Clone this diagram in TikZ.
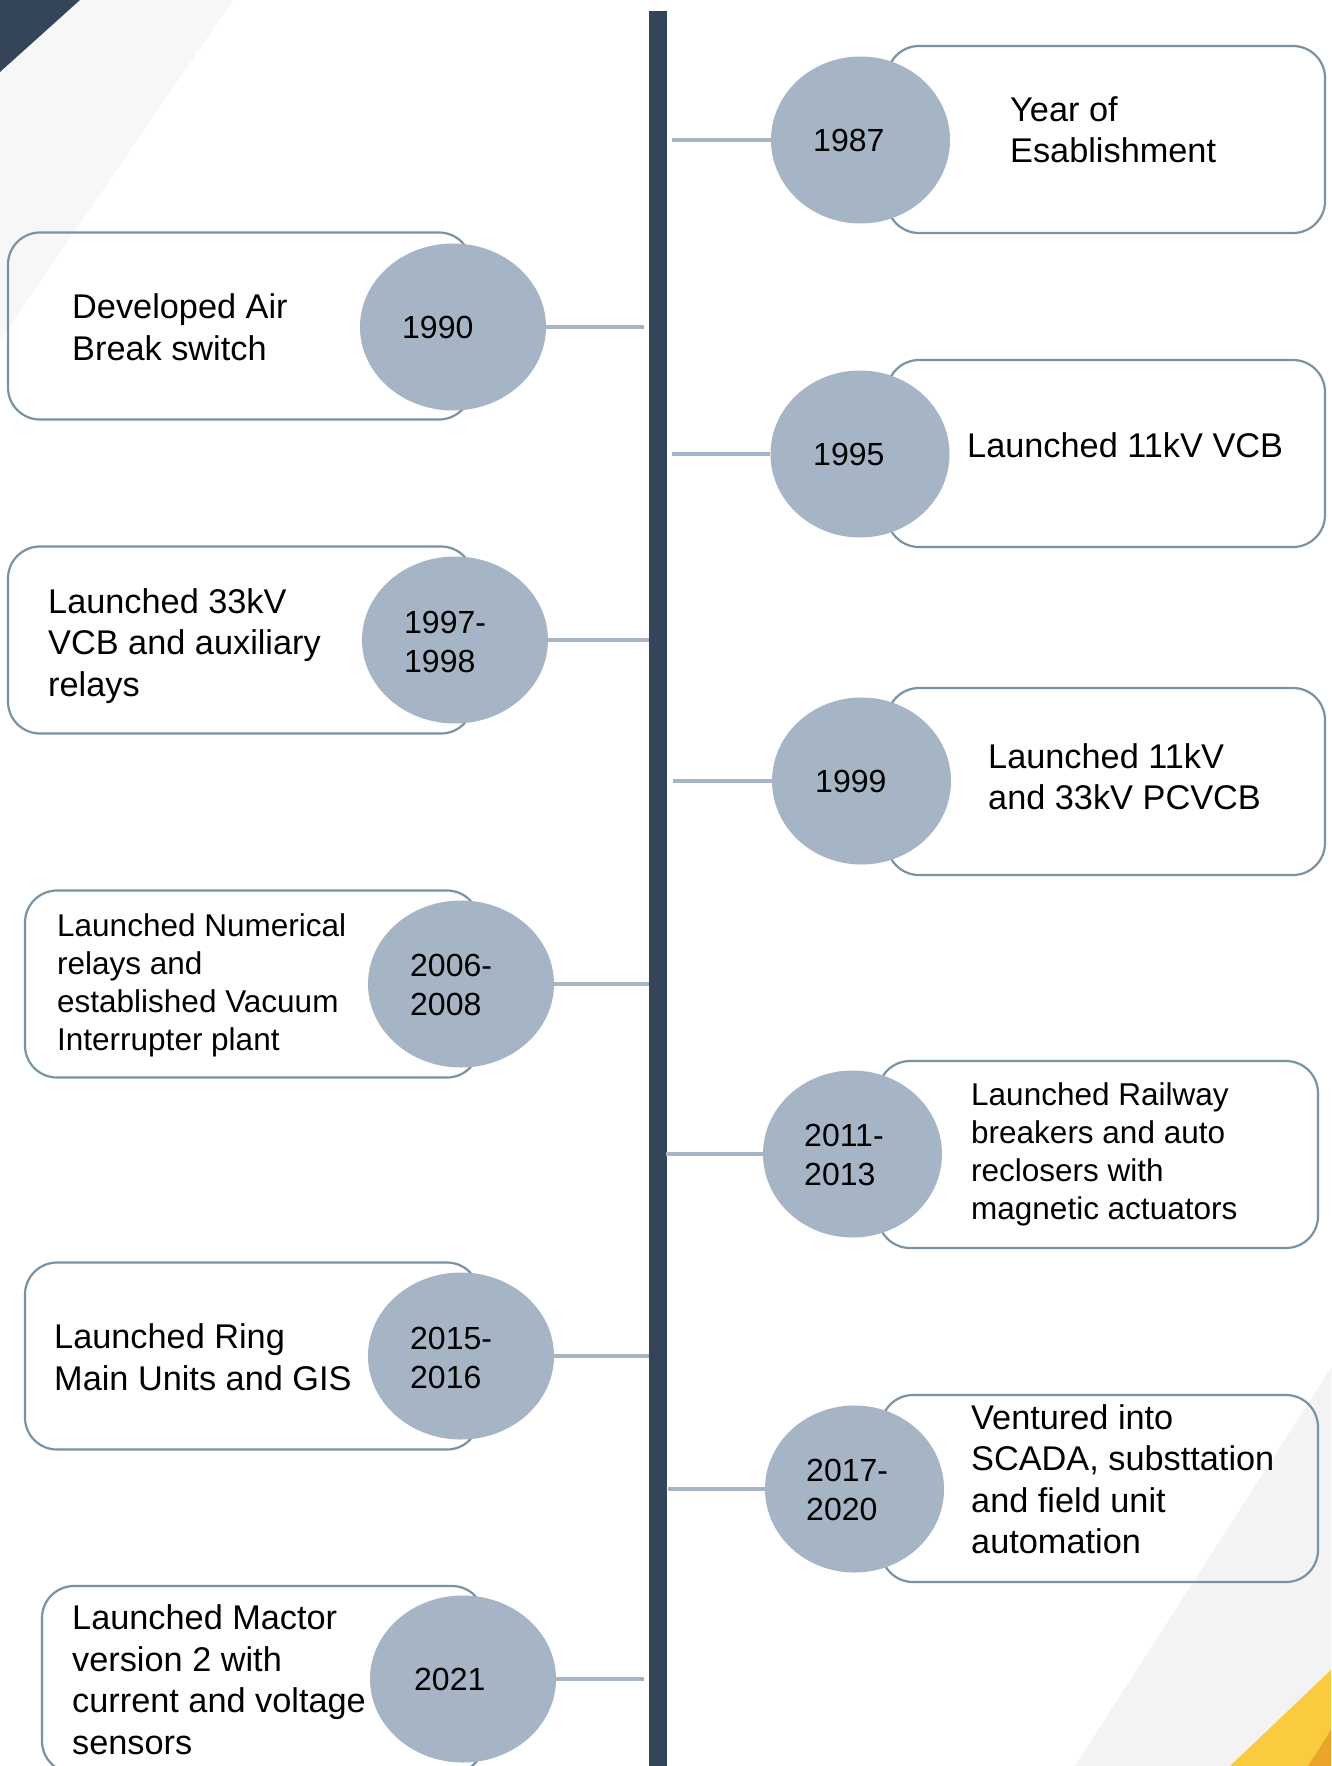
\documentclass[tikz,border=0pt]{standalone}
\usepackage{fontspec}
\setmainfont{Liberation Sans}
\usetikzlibrary{shapes.geometric}
\definecolor{darkslate}{RGB}{52,68,89}
\definecolor{bubble}{RGB}{165,181,197}
\definecolor{boxline}{RGB}{122,146,162}
\definecolor{bandgray}{RGB}{247,247,247}
\definecolor{bandgraytwo}{RGB}{243,243,243}
\definecolor{ochre}{RGB}{250,203,62}
\definecolor{ochredark}{RGB}{234,165,42}
\begin{document}
\begin{tikzpicture}[x=1pt,y=-1pt,
  evbox/.style={draw=boxline,line width=2.2pt,rounded corners=32pt,minimum height=187pt,inner sep=0pt},
  bub/.style={ellipse,fill=bubble,minimum height=167pt,inner sep=0pt},
  conn/.style={draw=bubble,line width=4.5pt},
  bigtxt/.style={anchor=west,align=left,inner sep=0pt,font=\fontsize{34.3}{41.5}\selectfont},
  smalltxt/.style={anchor=west,align=left,inner sep=0pt,font=\fontsize{31.5}{38}\selectfont},
  yeartxt/.style={anchor=west,align=left,inner sep=0pt,font=\fontsize{32}{39}\selectfont}
]
\useasboundingbox (0,0) rectangle (1331,1766);
\clip (0,0) rectangle (1331,1766);
\fill[white] (0,0) rectangle (1331,1766);
% background decoration
\fill[bandgray] (80,0) -- (233,0) -- (0,340) -- (0,72) -- cycle;
\fill[darkslate] (0,0) -- (80,0) -- (0,72) -- cycle;
\fill[bandgraytwo] (1331,1368) -- (1331,1766) -- (1075,1766) -- cycle;
\fill[ochre] (1331,1670) -- (1331,1766) -- (1230,1766) -- cycle;
\fill[ochredark] (1331,1730) -- (1331,1766) -- (1308,1766) -- cycle;
% central bar
\node[fill=darkslate,minimum width=18pt,minimum height=1755pt,inner sep=0pt,anchor=north] (bar) at (658,11) {};

% boxes
\node[evbox,minimum width=438pt] (b1) at (1106,139.5) {};
\node[evbox,minimum width=438pt] (b2) at (1106,453.5) {};
\node[evbox,minimum width=438pt] (b3) at (1106,781.5) {};
\node[evbox,minimum width=440pt] (b4) at (1098,1154.5) {};
\node[evbox,minimum width=437pt] (b5) at (1099.5,1488.5) {};
\node[evbox,minimum width=463pt] (a1) at (239.5,326) {};
\node[evbox,minimum width=465pt] (a2) at (240.5,640) {};
\node[evbox,minimum width=454pt] (a3) at (252,984) {};
\node[evbox,minimum width=454pt] (a4) at (252,1356) {};
\node[evbox,minimum width=442pt] (a5) at (263,1679.5) {};

% bubbles
\node[bub,minimum width=179pt] (e1) at (860.5,140) {};
\node[bub,minimum width=179pt] (e2) at (860,454) {};
\node[bub,minimum width=179pt] (e3) at (861.5,781) {};
\node[bub,minimum width=179pt] (e4) at (852.5,1154) {};
\node[bub,minimum width=179pt] (e5) at (854.5,1489) {};
\node[bub,minimum width=186pt] (d1) at (453,327) {};
\node[bub,minimum width=186pt] (d2) at (455,640) {};
\node[bub,minimum width=186pt] (d3) at (461,984) {};
\node[bub,minimum width=186pt] (d4) at (461,1356) {};
\node[bub,minimum width=186pt] (d5) at (463,1679) {};

% connector ends at the bar
\coordinate (t1) at (672,140);
\coordinate (t2) at (672,454);
\coordinate (t3) at (673,781);
\coordinate (t4) at (666,1154);
\coordinate (t5) at (668,1489);
\coordinate (s1) at (644,327);
\coordinate (s2) at (649,640);
\coordinate (s3) at (649,984);
\coordinate (s4) at (649,1356);
\coordinate (s5) at (644,1679);
\draw[conn] (t1) -- (e1);
\draw[conn] (t2) -- (e2);
\draw[conn] (t3) -- (e3);
\draw[conn] (t4) -- (e4);
\draw[conn] (t5) -- (e5);
\draw[conn] (d1) -- (s1);
\draw[conn] (d2) -- (s2);
\draw[conn] (d3) -- (s3);
\draw[conn] (d4) -- (s4);
\draw[conn] (d5) -- (s5);

% years
\node[yeartxt] (y1) at (813,140) {1987};
\node[yeartxt] (y2) at (813,454) {1995};
\node[yeartxt] (y3) at (815,781) {1999};
\node[yeartxt] (y4) at (804,1155) {2011-\\2013};
\node[yeartxt] (y5) at (806,1489.5) {2017-\\2020};
\node[yeartxt] (x1) at (402,327) {1990};
\node[yeartxt] (x2) at (404,641.5) {1997-\\1998};
\node[yeartxt] (x3) at (410,984.5) {2006-\\2008};
\node[yeartxt] (x4) at (410,1358) {2015-\\2016};
\node[yeartxt] (x5) at (414,1679) {2021};

% descriptions
\node[bigtxt] (n1) at (1010,130) {Year of\\Esablishment};
\node[bigtxt] (n2) at (967,445) {Launched 11kV VCB};
\node[bigtxt] (n3) at (988,776.5) {Launched 11kV\\and 33kV PCVCB};
\node[smalltxt] (n4) at (971,1154) {Launched Railway\\breakers and auto\\reclosers with\\magnetic actuators};
\node[bigtxt] (n5) at (971,1479) {Ventured into\\SCADA, substtation\\and field unit\\automation};
\node[bigtxt] (m1) at (72,327) {Developed Air\\Break switch};
\node[bigtxt] (m2) at (48,646) {Launched 33kV\\VCB and auxiliary\\relays};
\node[smalltxt] (m3) at (57,985) {Launched Numerical\\relays and\\established Vacuum\\Interrupter plant};
\node[bigtxt] (m4) at (54,1357) {Launched Ring\\Main Units and GIS};
\node[bigtxt] (m5) at (72,1679.5) {Launched Mactor\\version 2 with\\current and voltage\\sensors};
\end{tikzpicture}
\end{document}
